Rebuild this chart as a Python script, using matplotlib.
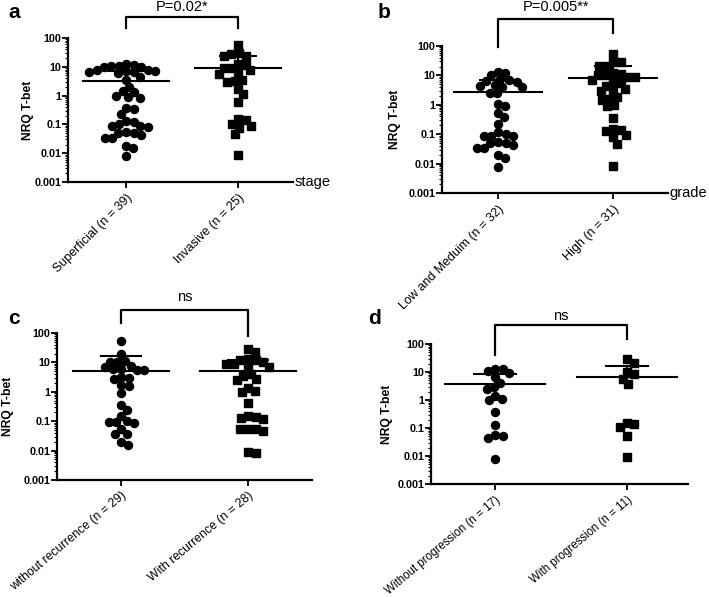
import numpy as np
import matplotlib
matplotlib.use('Agg')
import matplotlib.pyplot as plt
from matplotlib.ticker import LogLocator, NullFormatter, FixedLocator

plt.rcParams['font.family'] = ['Liberation Sans', 'DejaVu Sans']

# values (NRQ T-bet)
superficial = [12, 11, 9.5, 10, 11, 13, 7.5, 6.5, 7, 8, 6, 6.5, 7, 4.5, 3.5, 2.0, 1.4, 1.3,
               0.9, 0.85, 1.0, 0.37, 0.35, 0.23, 0.13, 0.12, 0.08, 0.09, 0.09, 0.1,
               0.05, 0.05, 0.055, 0.035, 0.042, 0.035, 0.018, 0.015, 0.0078]
invasive = [55, 30, 23, 24, 28, 12, 9, 13, 9, 5.8, 7.5, 6, 3.2, 3.6, 3.0, 1.7, 1.1, 0.58,
            0.15, 0.077, 0.09, 0.1, 0.14, 0.047, 0.0087]

low_med = [10.4, 11.8, 13, 7.4, 6.2, 6.6, 7, 4.8, 4, 4, 4.5, 2.5, 2.6, 0.88, 1.1, 0.52, 0.38,
           0.23, 0.085, 0.115, 0.09, 0.085, 0.105, 0.05, 0.042, 0.05, 0.053, 0.033, 0.033,
           0.019, 0.015, 0.0076]
high = [55, 29, 21, 21, 28, 8.5, 12, 11, 10.3, 10, 8.5, 5.7, 4.4, 5.4, 7, 3.4, 2.9, 3, 1.5,
        1.8, 1.6, 0.88, 1.0, 0.35, 0.15, 0.13, 0.14, 0.08, 0.095, 0.048, 0.0086]

no_recur = [55, 19, 10.5, 10.5, 11.4, 7.7, 5.9, 5.5, 6.2, 5.5, 6.8, 2.8, 3.2, 3.0, 1.7, 1.6,
            0.9, 0.36, 0.24, 0.15, 0.095, 0.09, 0.095, 0.1, 0.036, 0.036, 0.053, 0.016, 0.02]
recur = [28, 22, 10, 12, 13, 12, 9, 8.5, 7, 7, 4, 2.7, 2.5, 3.5, 1.4, 1.0, 1.05, 0.4, 0.14,
         0.12, 0.13, 0.15, 0.056, 0.053, 0.047, 0.056, 0.0086, 0.009]

no_prog = [13, 11, 12.4, 9, 6.8, 4.2, 2.8, 2.5, 1.4, 0.96, 1.06, 0.38, 0.125, 0.052, 0.045,
           0.055, 0.0076]
prog = [28, 21, 10, 8.5, 5.8, 3.6, 0.15, 0.11, 0.135, 0.052, 0.0093]

# center line and upper error bar per group
centers = {'a': [3.2, 9.0], 'b': [2.8, 8.2], 'c': [5.3, 5.0], 'd': [3.7, 6.8]}
uppers = {'a': [7.2, 23], 'b': [6.8, 21], 'c': [16, 12], 'd': [8.4, 16]}

labels = {
    'a': ['Superficial (n = 39)', 'Invasive (n = 25)'],
    'b': ['Low and Meduim (n = 32)', 'High (n = 31)'],
    'c': ['without recurrence (n = 29)', 'With recurrence (n = 28)'],
    'd': ['Without progression (n = 17)', 'With progression (n = 11)'],
}
pvals = {'a': 'P=0.02*', 'b': 'P=0.005**', 'c': 'ns', 'd': 'ns'}
xnames = {'a': 'stage', 'b': 'grade', 'c': '', 'd': ''}
groups = {'a': [superficial, invasive], 'b': [low_med, high],
          'c': [no_recur, recur], 'd': [no_prog, prog]}

W, H = 709, 597
# pixel boxes: left, right, top, bottom, cat0 px, cat1 px
boxes = {'a': (68, 293, 38, 182, 126, 238),
         'b': (442, 668, 46, 193, 498, 613),
         'c': (57, 312, 333, 480, 121, 248),
         'd': (431, 688, 344, 484, 495, 627)}
# bracket: top, left leg end, right leg end (px), text y (px)
brackets = {'a': (17, 28, 28, 7), 'b': (19, 47, 33, 7),
            'c': (310, 323, 336, 297), 'd': (325, 355, 339, 316)}
letters = {'a': (8, 12), 'b': (378, 13), 'c': (8, 318), 'd': (368, 318)}
ylab_x = {'a': 28, 'b': 395, 'c': 8, 'd': 387}
rot = {'a': 45, 'b': 45, 'c': 40, 'd': 40}
xfs = {'a': 9, 'b': 9, 'c': 8.8, 'd': 8.3}


def swarm(vals, ppu, ppd, d):
    # simple beeswarm in pixel space
    ys = np.log10(vals) * ppd
    order = np.argsort(-ys)
    placed = []
    xs = np.zeros(len(vals))
    for i in order:
        y = ys[i]
        cands = [0.0]
        for (px, py) in placed:
            dy = abs(py - y)
            if dy < d:
                dx = np.sqrt(d * d - dy * dy)
                cands += [px + dx, px - dx]
        cands.sort(key=abs)
        for c in cands:
            if all((c - px) ** 2 + (y - py) ** 2 >= d * d - 1e-6 for px, py in placed):
                xs[i] = c
                placed.append((c, y))
                break
    return xs / ppu


fig = plt.figure(figsize=(W / 100, H / 100), dpi=100)

for key in 'abcd':
    l, r, t, b, c0, c1 = boxes[key]
    ax = fig.add_axes([l / W, 1 - b / H, (r - l) / W, (b - t) / H])
    ppu = c1 - c0
    ax.set_xlim((l - c0) / ppu, (r - c0) / ppu)
    ax.set_yscale('log')
    ax.set_ylim(0.001, 100)
    ppd = (b - t) / 5.0

    for k, vals in enumerate(groups[key]):
        off = swarm(vals, ppu, ppd, 7.6)
        ax.plot(k + off, vals, ls='none', marker='o' if k == 0 else 's',
                ms=5.8 if k == 0 else 5.3, color='black', mec='black', clip_on=False, zorder=3)
        ax.plot([k - 0.38, k + 0.38], [centers[key][k]] * 2, color='black', lw=1.5, zorder=4)
        ax.plot([k, k], [centers[key][k], uppers[key][k]], color='black', lw=1.5, zorder=4)
        ax.plot([k - 0.16, k + 0.16], [uppers[key][k]] * 2, color='black', lw=1.5, zorder=4)

    for s in ['top', 'right']:
        ax.spines[s].set_visible(False)
    for s in ['left', 'bottom']:
        ax.spines[s].set_linewidth(1.6)
    ax.yaxis.set_minor_locator(LogLocator(base=10, subs=np.arange(2, 10), numticks=20))
    ax.yaxis.set_minor_formatter(NullFormatter())
    ax.set_yticks([0.001, 0.01, 0.1, 1, 10, 100])
    ax.set_yticklabels(['0.001', '0.01', '0.1', '1', '10', '100'], fontweight='bold', fontsize=7.8)
    ax.tick_params(axis='y', which='major', length=4, width=1.3, pad=1)
    ax.tick_params(axis='y', which='minor', length=2, width=0.8)
    ax.xaxis.set_major_locator(FixedLocator([0, 1]))
    ax.set_xticklabels(labels[key], rotation=rot[key], ha='right', rotation_mode='anchor',
                       fontsize=xfs[key])
    ax.tick_params(axis='x', length=4, width=1.3, pad=3)
    ax.set_ylabel('NRQ T-bet', fontweight='bold', fontsize=8.7, va='center')
    ax.yaxis.set_label_coords((ylab_x[key] - l) / (r - l), 0.5)
    if xnames[key]:
        ax.text(1.005, 0, xnames[key], transform=ax.transAxes, va='center', ha='left', fontsize=10.5)

    # significance bracket
    bt, bl, br, ty = brackets[key]
    fy = lambda px: (b - px) / (b - t)
    tr = ax.get_xaxis_transform()
    ax.plot([0, 0, 1, 1], [fy(bl), fy(bt), fy(bt), fy(br)], color='black', lw=1.6,
            transform=tr, clip_on=False)
    ax.text(0.5, fy(ty), pvals[key], transform=tr, ha='center', va='center', fontsize=10.5)

    lx, ly = letters[key]
    fig.text(lx / W, 1 - ly / H, key, fontsize=15, fontweight='bold', va='center', ha='left')

fig.savefig('out.png', dpi=100)
